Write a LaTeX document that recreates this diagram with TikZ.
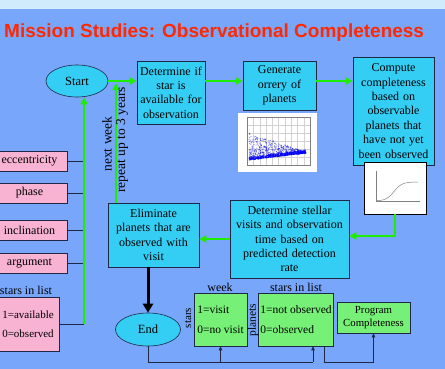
\documentclass[tikz,border=0pt]{standalone}
\usepackage{fontspec}
\setmainfont{Liberation Serif}
\newfontfamily\titlefont{Liberation Sans}
\usetikzlibrary{shapes.geometric,arrows.meta}
\definecolor{bgblue}{RGB}{120,166,250}
\definecolor{topband}{RGB}{208,236,252}
\definecolor{titlered}{RGB}{255,40,0}
\definecolor{cyanbox}{RGB}{52,206,245}
\definecolor{pinkbox}{RGB}{248,178,210}
\definecolor{greenbox}{RGB}{118,240,118}
\definecolor{flowgreen}{RGB}{30,236,0}
\definecolor{edgec}{RGB}{30,40,70}
\tikzset{
  box/.style={draw=edgec, fill=cyanbox, align=center, inner sep=2pt, line width=0.6pt, font=\fontsize{12}{14.4}\selectfont},
  term/.style={ellipse, draw=edgec, fill=cyanbox, inner sep=0pt, line width=0.6pt, font=\fontsize{12.5}{14}\selectfont},
  parm/.style={draw=edgec, fill=pinkbox, inner sep=2pt, minimum height=20, line width=0.6pt, font=\fontsize{12}{14}\selectfont},
  flag/.style={draw=edgec, fill=greenbox, align=left, inner sep=2pt, line width=0.6pt, font=\fontsize{11.5}{13.8}\selectfont},
  lbl/.style={inner sep=0pt, font=\fontsize{12}{14}\selectfont},
  flow/.style={draw=flowgreen, line width=2.2pt, ->},
  heavy/.style={draw=black, line width=3pt, -{Triangle[length=9pt,width=10pt]}},
  wire/.style={draw=edgec, line width=0.7pt},
  wirearr/.style={wire, -{Triangle[length=4pt,width=3.5pt]}}
}
\begin{document}
\begin{tikzpicture}[x=1pt,y=-1pt,>={Triangle[length=7pt,width=7pt]}]
\useasboundingbox (0,0) rectangle (445,369);
\fill[bgblue] (0,0) rectangle (445,369);
\fill[topband] (0,0) rectangle (445,9);
\node[anchor=base west, text=titlered, inner sep=0pt, font=\titlefont\bfseries\fontsize{19}{22}\selectfont] (title) at (4,38) {Mission Studies: Observational Completeness};

% main loop
\node[term, minimum width=62, minimum height=32] (start) at (77,81) {Start};
\node[box, minimum width=68, minimum height=63, text width=64] (avail) at (171,92.5) {Determine if\\ star is\\ available for\\ observation};
\node[box, minimum width=73, minimum height=49, text width=69] (orrery) at (279.5,85.5) {Generate\\ orrery of\\ planets};
\node[box, minimum width=81, minimum height=108, text width=77] (comp) at (393.5,111) {Compute\\ completeness\\ based on\\ observable\\ planets that\\ have not yet\\ been observed};
\node[box, minimum width=119, minimum height=78, text width=115] (stellar) at (289.5,239) {Determine stellar\\ visits and observation\\ time based on\\ predicted detection\\ rate};
\node[box, minimum width=91, minimum height=64, text width=87] (elim) at (153.5,235) {Eliminate\\ planets that are\\ observed with\\ visit};
\node[term, minimum width=65, minimum height=33] (endn) at (148,329.5) {End};

% orrery scatter plot
\fill[white] (238,113) rectangle (317,172);
\foreach \i in {0,...,10}
  \draw[gray!35, line width=0.2pt] ({247+6.3*\i},117) -- ({247+6.3*\i},165);
\foreach \i in {0,...,6}
  \draw[gray!35, line width=0.2pt] (247,{117+8*\i}) -- (310,{117+8*\i});
\draw[gray, line width=0.3pt] (247,117) rectangle (310,165);
\pgfmathsetseed{11}
\foreach \k in {1,...,900}{
  \pgfmathsetmacro\u{rnd}
  \pgfmathsetmacro\v{rnd}
  \pgfmathsetmacro\px{249+57*\u}
  \pgfmathsetmacro\py{160-7*\u-(27-26*\u)*\v*\v}
  \fill[blue!85!black, opacity=0.45] (\px,\py) circle (0.6pt);
}
\foreach \k in {1,...,300}{
  \pgfmathsetmacro\u{rnd}
  \pgfmathsetmacro\v{rnd}
  \pgfmathsetmacro\px{249+57*\u}
  \pgfmathsetmacro\py{160-7*\u-3*\v}
  \fill[blue, opacity=0.6] (\px,\py) circle (0.7pt);
}

% completeness curve
\node[draw=black, fill=white, line width=0.5pt, minimum width=62, minimum height=52, inner sep=0pt] (cplot) at (395,188) {};
\draw[gray, line width=0.4pt] (376,171) -- (376,201) -- (420,201);
\draw[gray, line width=0.5pt, smooth, samples=40, domain=376:418] plot (\x,{201-19/(1+exp(-(\x-394)/4))});

% inputs
\node[parm, minimum width=75] (ecc) at (29.5,161) {eccentricity};
\node[parm, minimum width=75] (phase) at (29.5,193) {phase};
\node[parm, minimum width=75] (incl) at (29.5,230) {inclination};
\node[parm, minimum width=75] (argm) at (29.5,263) {argument};
\node[lbl] (lsthead) at (26,290) {stars in list};
\node[parm, align=center, minimum width=62, minimum height=54, font=\fontsize{11}{13}\selectfont] (lst) at (28,324) {1=available\\[6.5pt]0=observed};
\coordinate (bus) at (84,324);
\foreach \p in {ecc,phase,incl,argm,lst}
  \draw[wire] (\p.east) -- (\p.east -| bus);

% outputs
\node[flag, minimum width=53, minimum height=53] (vis) at (220.5,319.5) {1=visit\\[6pt]0=no visit};
\node[flag, minimum width=74, minimum height=53] (obs) at (296,319.5) {1=not observed\\[6pt]0=observed};
\node[flag, align=center, minimum width=73, minimum height=31, font=\fontsize{10.8}{13}\selectfont] (prog) at (373.5,317.5) {Program\\ Completeness};
\node[lbl] (wk) at (220,287) {week};
\node[lbl] (obshead) at (296,287) {stars in list};
\node[lbl, rotate=90, font=\fontsize{11}{13}\selectfont] (strs) at (188,318) {stars};
\node[lbl, rotate=90, font=\fontsize{11.5}{13}\selectfont] (plts) at (253,320) {planets};

% green flow
\coordinate (loop) at (116,81);
\draw[flow] (start.east) -- (start.east -| avail.west);
\draw[flow] (avail.east |- start.east) -- (orrery.west |- start.east);
\draw[flow] (orrery.east |- start.east) -- (comp.west |- start.east);
\draw[flow] (cplot.south) |- ([yshift=3pt]stellar.east);
\draw[flow] (stellar.west) -- (stellar.west -| elim.east);
\draw[flow] (elim.north -| loop) -- ([yshift=-2pt]loop);
\draw[flow] (bus) -- (bus |- start.south);
\node[lbl, rotate=90, font=\fontsize{13.5}{15}\selectfont] (nxt) at (107,144) {next week};
\node[lbl, rotate=90, font=\fontsize{13.5}{15}\selectfont] (rpt) at (122,140) {repeat up to 3 years};
\draw[heavy] (elim.south -| endn) -- (endn.north);

% bottom wiring
\coordinate (rail) at (313,362);
\draw[wire] (endn.south) |- (rail);
\draw[wirearr] (rail) -- (rail |- obs.south);
\draw[wirearr] (vis.south |- rail) -- (vis.south);
\draw[wirearr] ([xshift=28pt]obs.south) |- (prog.south |- rail) -- (prog.south);
\end{tikzpicture}
\end{document}
